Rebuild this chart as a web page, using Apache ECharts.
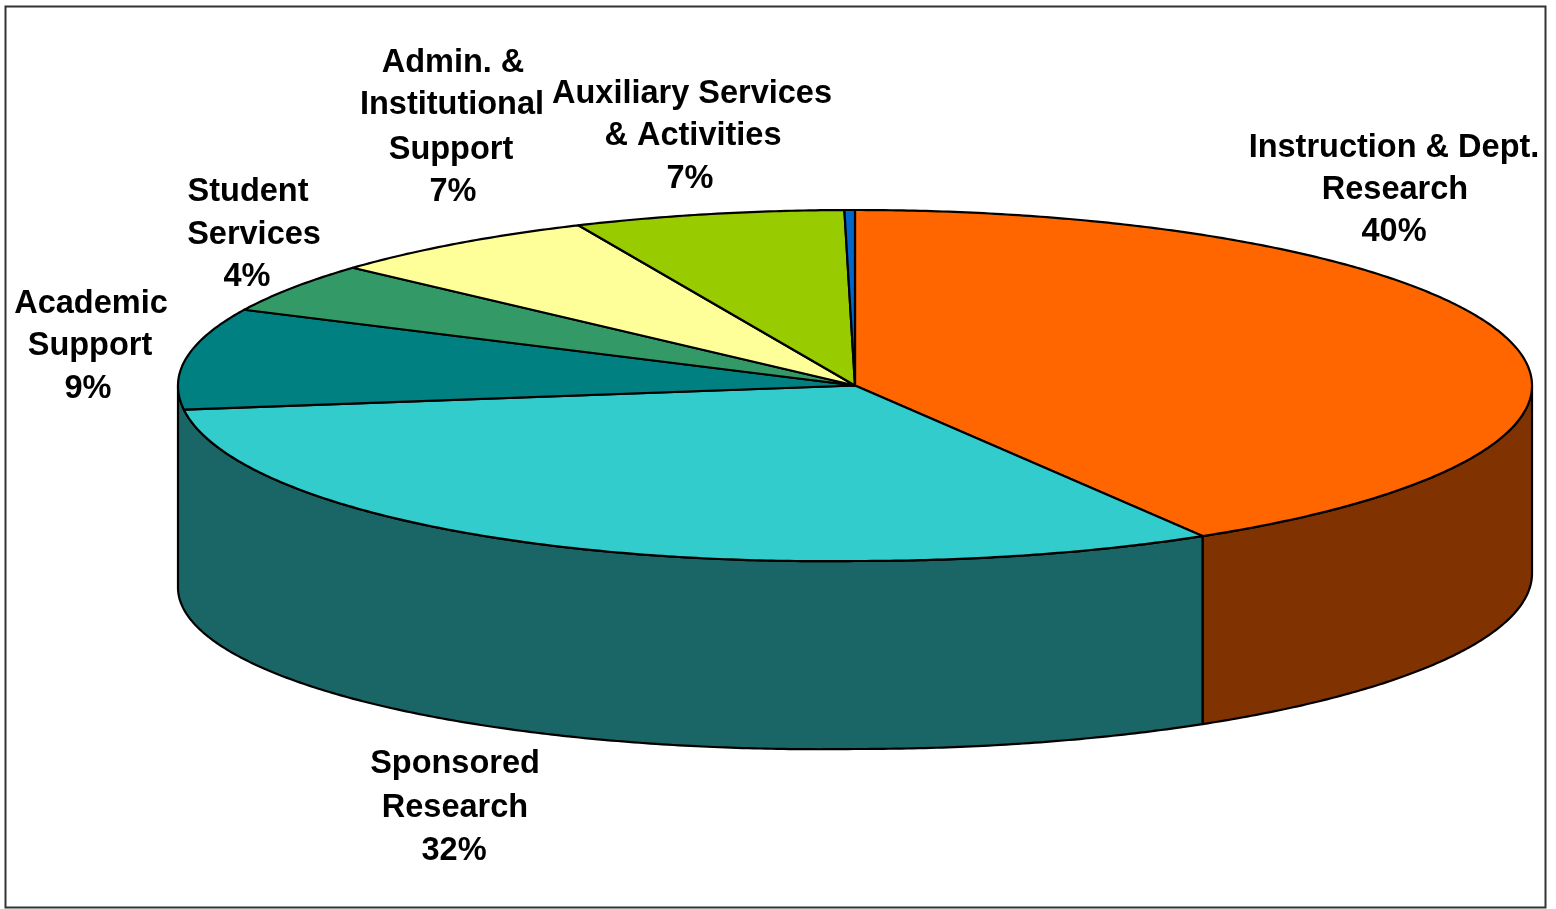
<!DOCTYPE html>
<html>
<head>
<meta charset="utf-8">
<style>html,body{margin:0;padding:0;background:#fff}#c{width:1556px;height:909px}</style>
<script src="https://cdn.jsdelivr.net/npm/echarts@6/dist/echarts.min.js"></script>
</head>
<body>
<div id="c"></div>
<script>
// Data: clockwise from 12 o'clock
const categories = ['Instruction & Dept. Research','Sponsored Research','Academic Support','Student Services','Admin. & Institutional Support','Auxiliary Services & Activities','Other'];
const labelLines = [['Instruction & Dept.','Research','40%'],['Sponsored','Research','32%'],['Academic','Support','9%'],['Student','Services','4%'],['Admin. &','Institutional','Support','7%'],['Auxiliary Services','& Activities','7%'],[]];
// shares of the circle as drawn in the picture (percent)
const sliceShares = [41.42,31.48,9.2,4.6,6.6,6.45,0.25];
const topColors = ['#FF6600','#33CCCC','#008080','#339966','#FFFF99','#99CC00','#0066CC'];
const sideColors = ['#803300','#1A6666'];

// Layout
const pie = {cx:855, cy:385.5, rx:677, ry:175.5, depth:188, topBulge:4, wallBulge:14};
const labelAt = [
  [[1394,148],[1395,190],[1394,232]],
  [[455,764],[455,808],[454,851]],
  [[91,304],[90,346],[88,389]],
  [[248,192],[254,235],[247,277]],
  [[453,63],[452,105],[451,150],[453,192]],
  [[692,94],[693,136],[690,179]],
  []
];
const total = sliceShares.reduce((a,b)=>a+b,0);
// The source picture's perspective swells the front-left quadrant slightly.
const frontLeft = d => (d>180 && d<270) ? (d-180)/90 : (d>=270 ? 1 : 0);
const topPt = d => {
  const a=d*Math.PI/180, t=frontLeft(d);
  return [pie.cx+pie.rx*Math.sin(a), pie.cy-pie.ry*Math.cos(a)+(d>180&&d<270?pie.topBulge*Math.sin(Math.PI*t):0)];
};
const botPt = d => {
  const a=d*Math.PI/180;
  return [pie.cx+pie.rx*Math.sin(a), pie.cy-pie.ry*Math.cos(a)+pie.depth+pie.wallBulge*frontLeft(d)];
};
const arc = (from,to,f)=>{const n=Math.max(2,Math.ceil(Math.abs(to-from)/0.5));const out=[];for(let i=0;i<=n;i++)out.push(f(from+(to-from)*i/n));return out;};

const renderItem = (params, api) => {
  const idx = api.value(1);
  let before = 0;
  for (let i=0;i<idx;i++) before += sliceShares[i];
  const start = before/total*360, end = (before+api.value(0))/total*360;
  const children = [];
  const line = {stroke:'#000',lineWidth:2.2,lineJoin:'round'};
  if (idx < sideColors.length) {
    // Only the two front slices show a wall; the second runs to the left silhouette.
    const s0 = Math.max(start,90), s1 = idx===1 ? 270 : end;
    const pts = arc(s0,s1,topPt).concat(arc(s1,s0,botPt));
    children.push({type:'polygon',shape:{points:pts},style:Object.assign({fill:sideColors[idx]},line)});
  }
  const topPts = [[pie.cx,pie.cy]].concat(arc(start,end,topPt));
  children.push({type:'polygon',shape:{points:topPts},style:Object.assign({fill:topColors[idx]},line)});
  labelLines[idx].forEach((t,i)=>{
    children.push({type:'text',z2:10,style:{text:t,x:labelAt[idx][i][0],y:labelAt[idx][i][1],align:'center',verticalAlign:'middle',
      fill:'#000',font:'bold 32.5px "Liberation Sans", Arial, sans-serif'}});
  });
  return {type:'group',children};
};

const chart = echarts.init(document.getElementById('c'),null,{renderer:'canvas'});
chart.setOption({
  animation:false,
  backgroundColor:'#fff',
  graphic:[{type:'rect',silent:true,z:-1,shape:{x:5.5,y:6.5,width:1540,height:901},style:{fill:'#fff',stroke:'#333',lineWidth:2}}],
  series:[{
    type:'custom',
    coordinateSystem:'none',
    renderItem,
    data:sliceShares.map((v,i)=>({name:categories[i],value:[v,i]}))
  }]
});
</script>
</body>
</html>
